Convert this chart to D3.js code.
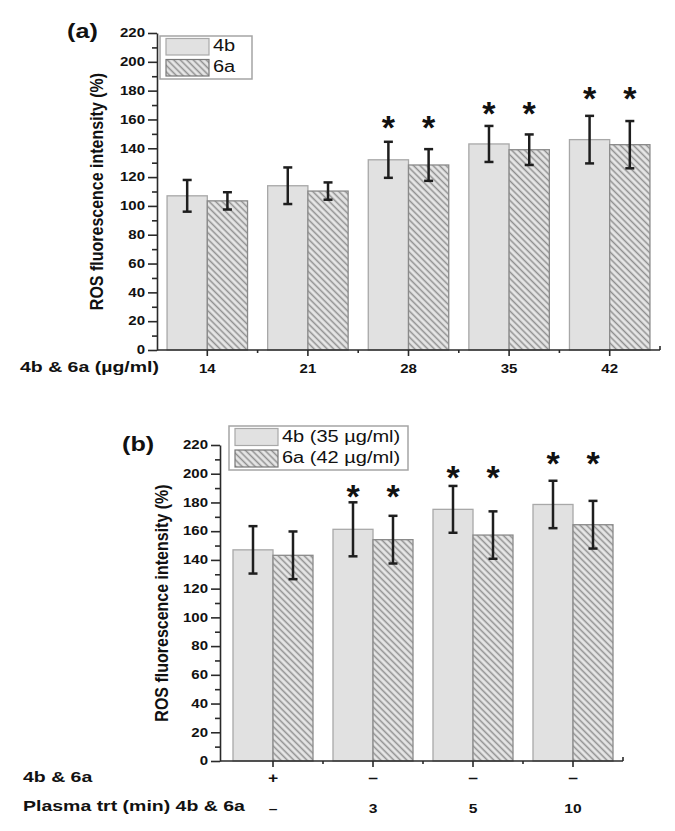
<!DOCTYPE html>
<html><head><meta charset="utf-8">
<script src="https://cdn.jsdelivr.net/npm/d3@7"></script>
<style>body{margin:0;background:#fff} svg{display:block;font-family:"Liberation Sans",Arial,sans-serif}</style>
</head><body><script>
// ---------- data ----------
const seriesA = ["4b", "6a"];
const concA = ["14", "21", "28", "35", "42"];
const a4b = [107, 114, 132, 143, 146];
const a4bErr = [11, 12.7, 12.5, 12.5, 16.5];
const a6a = [103.5, 110.3, 128.4, 139, 142.5];
const a6aErr = [6, 6, 11, 10.6, 16.4];
const aStars = [null, null, 157, 167, 177];

const seriesB = ["4b (35 µg/ml)", "6a (42 µg/ml)"];
const condB = ["ctrl", "p3", "p5", "p10"];
const rowDrug = ["+", "–", "–", "–"];
const rowPlasma = ["–", "3", "5", "10"];
const b4b = [147, 161.3, 175.2, 178.6];
const b4bErr = [16.5, 18.8, 16.3, 16.5];
const b6a = [143.2, 154.1, 157.3, 164.5];
const b6aErr = [16.6, 16.6, 16.5, 16.6];
const bStars = [null, 187, 200, 210];

const yMajor = [0, 20, 40, 60, 80, 100, 120, 140, 160, 180, 200, 220];
const yMinor = [10, 30, 50, 70, 90, 110, 130, 150, 170, 190, 210];
const yTitle = "ROS fluorescence intensity (%)";

// ---------- setup ----------
const W = 675, H = 831;
const svg = d3.select("body").append("svg").attr("width", W).attr("height", H);
const defs = svg.append("defs");
const pat = defs.append("pattern").attr("id", "hatch").attr("patternUnits", "userSpaceOnUse")
  .attr("width", 4.6).attr("height", 4.6).attr("patternTransform", "rotate(-45)");
pat.append("rect").attr("width", 4.6).attr("height", 4.6).attr("fill", "#e6e6e6");
pat.append("line").attr("x1", 2.3).attr("y1", 0).attr("x2", 2.3).attr("y2", 4.6)
  .attr("stroke", "#8e8e8e").attr("stroke-width", 1.5);

const FILL4B = "#e1e1e1", STROKE4B = "#a8a8a8", STROKE6A = "#8a8a8a", AX = "#2a2a2a";

function T(g, x, y, s, o = {}) {
  const { size = 12, weight = "bold", anchor = "start", sx = 1.25, fill = "#111" } = o;
  return g.append("text").attr("transform", `translate(${x},${y}) scale(${sx},1)`)
    .attr("text-anchor", anchor).attr("font-size", size).attr("font-weight", weight)
    .attr("fill", fill).text(s);
}

function panel(cfg) {
  const g = svg.append("g");
  const y = d3.scaleLinear().domain([0, 220]).range([cfg.y0, cfg.y1]);
  const x = d3.scaleBand().domain(cfg.cats).range(cfg.xr).padding(0);
  const bw = x.bandwidth();
  const sub = d3.scaleBand().domain([0, 1]).range([0, bw * 0.8]);
  const center = c => x(c) + bw / 2;

  const data = cfg.cats.map((c, i) => ({
    c, i, vals: [{ s: 0, v: cfg.v1[i], e: cfg.e1[i] }, { s: 1, v: cfg.v2[i], e: cfg.e2[i] }], star: cfg.stars[i]
  }));

  // bars
  const grp = g.selectAll("g.grp").data(data).join("g").attr("class", "grp")
    .attr("transform", d => `translate(${center(d.c) - bw * 0.4},0)`);
  grp.selectAll("rect").data(d => d.vals).join("rect")
    .attr("x", d => sub(d.s)).attr("width", sub.bandwidth())
    .attr("y", d => y(d.v)).attr("height", d => y(0) - y(d.v))
    .attr("fill", d => d.s === 0 ? FILL4B : "url(#hatch)")
    .attr("stroke", d => d.s === 0 ? STROKE4B : STROKE6A).attr("stroke-width", 1.3);

  // error bars
  const eb = grp.selectAll("g.eb").data(d => d.vals).join("g").attr("class", "eb")
    .attr("transform", d => `translate(${sub(d.s) + sub.bandwidth() / 2},0)`);
  const ES = { stroke: "#1e1e1e", w: 2.5 };
  eb.append("line").attr("x1", 0).attr("x2", 0).attr("y1", d => y(d.v + d.e)).attr("y2", d => y(d.v - d.e))
    .attr("stroke", ES.stroke).attr("stroke-width", ES.w);
  eb.append("line").attr("x1", -4.5).attr("x2", 4.5).attr("y1", d => y(d.v + d.e)).attr("y2", d => y(d.v + d.e))
    .attr("stroke", ES.stroke).attr("stroke-width", ES.w);
  eb.append("line").attr("x1", -4.5).attr("x2", 4.5).attr("y1", d => y(d.v - d.e)).attr("y2", d => y(d.v - d.e))
    .attr("stroke", ES.stroke).attr("stroke-width", ES.w);

  // stars
  data.filter(d => d.star != null).forEach(d => {
    [0, 1].forEach(s => {
      g.append("text").attr("x", center(d.c) - bw * 0.4 + sub(s) + sub.bandwidth() / 2)
        .attr("y", y(d.star) + 0.57 * 34 - 4).attr("text-anchor", "middle")
        .attr("font-size", 34).attr("font-weight", "bold").attr("fill", "#111").text("*");
    });
  });

  // y axis
  const ya = g.append("g").attr("transform", `translate(${cfg.ax},0)`);
  ya.call(d3.axisLeft(y).tickValues(yMajor).tickSize(9).tickSizeOuter(0).tickFormat(""));
  ya.append("g").call(d3.axisLeft(y).tickValues(yMinor).tickSize(5).tickSizeOuter(0).tickFormat(""))
    .select(".domain").remove();
  ya.selectAll("path,line").attr("stroke", AX).attr("stroke-width", 1.6);
  yMajor.forEach(v => T(ya, -12, y(v) + 4.3, v, { size: 12, anchor: "end", sx: 1.25 }));

  // x axis
  const xa = g.append("g").attr("transform", `translate(0,${cfg.y0})`);
  xa.append("line").attr("x1", cfg.ax).attr("x2", cfg.xEnd).attr("y1", 0).attr("y2", 0)
    .attr("stroke", AX).attr("stroke-width", 1.6);
  xa.append("g").call(d3.axisBottom(x).tickSize(6).tickSizeOuter(0).tickFormat(""))
    .call(s => s.select(".domain").remove())
    .selectAll("line").attr("stroke", AX).attr("stroke-width", 1.6);
  const bounds = cfg.cats.slice(1).map(c => x(c)).concat([cfg.xEnd]);
  xa.selectAll("line.minor").data(bounds).join("line").attr("class", "minor")
    .attr("x1", d => d).attr("x2", d => d).attr("y1", 0).attr("y2", (d, i) => i === bounds.length - 1 ? -4 : 3)
    .attr("stroke", AX).attr("stroke-width", 1.6);

  // y title
  g.append("text").attr("transform", `translate(${cfg.titleX},${(cfg.y0 + cfg.y1) / 2}) rotate(-90) scale(1,1.15)`)
    .attr("text-anchor", "middle").attr("font-size", 16).attr("font-weight", "bold")
    .attr("fill", "#111").text(yTitle);

  // panel tag
  T(g, cfg.tagX, cfg.tagY, cfg.tag, { size: 21, sx: 1.2 });

  // legend
  const L = cfg.leg;
  g.append("rect").attr("x", L.x).attr("y", L.y).attr("width", L.w).attr("height", L.h)
    .attr("fill", "#fff").attr("stroke", "#a5a5a5").attr("stroke-width", 1.5);
  cfg.series.forEach((s, i) => {
    const yy = L.y + 2.5 + i * (L.h / 2 - 0.5);
    g.append("rect").attr("x", L.x + 6).attr("y", yy).attr("width", 43).attr("height", L.h / 2 - 5)
      .attr("fill", i === 0 ? FILL4B : "url(#hatch)").attr("stroke", i === 0 ? STROKE4B : "#777")
      .attr("stroke-width", 1.2);
    T(g, L.x + 53, yy + L.h / 2 - 9, s, { size: 16, weight: "normal", sx: 1.25 });
  });

  return { g, x, center };
}

// ---------- panel (a) ----------
const pa = panel({
  cats: concA, v1: a4b, e1: a4bErr, v2: a6a, e2: a6aErr, stars: aStars,
  y0: 350, y1: 33, ax: 157, xr: [157, 660], xEnd: 660, titleX: 103,
  tag: "(a)", tagX: 67, tagY: 38, series: seriesA,
  leg: { x: 160, y: 36, w: 92, h: 43 }
});
concA.forEach(c => T(pa.g, pa.center(c), 373, c, { size: 12, anchor: "middle", sx: 1.25 }));
T(pa.g, 20, 372, "4b & 6a (µg/ml)", { size: 15, sx: 1.3 });

// ---------- panel (b) ----------
const pb = panel({
  cats: condB, v1: b4b, e1: b4bErr, v2: b6a, e2: b6aErr, stars: bStars,
  y0: 761, y1: 445, ax: 220, xr: [223, 623], xEnd: 623, titleX: 168,
  tag: "(b)", tagX: 122, tagY: 451, series: seriesB,
  leg: { x: 229, y: 426, w: 179, h: 44 }
});
condB.forEach((c, i) => {
  T(pb.g, pb.center(c), 783, rowDrug[i], { size: 14, anchor: "middle", sx: 1.25 });
  T(pb.g, pb.center(c), 813, rowPlasma[i], { size: 12.5, anchor: "middle", sx: 1.25 });
});
T(pb.g, 23, 782, "4b & 6a", { size: 15, sx: 1.3 });
T(pb.g, 23, 811, "Plasma trt (min) 4b & 6a", { size: 15, sx: 1.3 });
</script></body></html>
